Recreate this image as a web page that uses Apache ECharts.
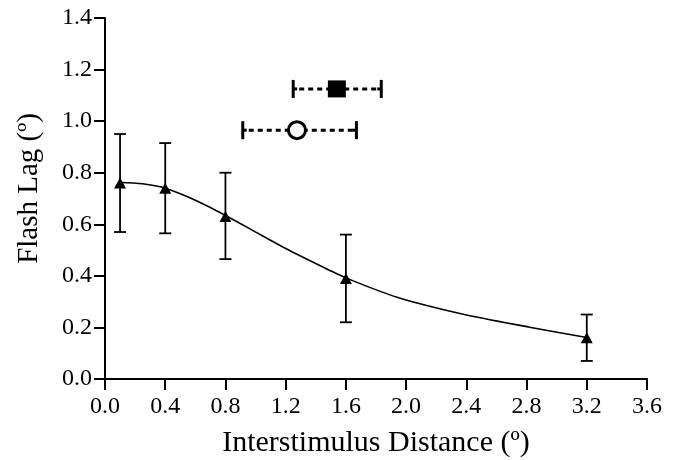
<!DOCTYPE html>
<html>
<head>
<meta charset="utf-8">
<script src="https://cdn.jsdelivr.net/npm/echarts@6/dist/echarts.min.js"></script>
<style>
html,body{margin:0;padding:0;background:#fff;}
#chart{width:678px;height:460px;}
</style>
</head>
<body>
<div id="chart"></div>
<script>
// Measured points (triangles) with vertical error bars
const xDist = [0.1, 0.4, 0.8, 1.6, 3.2];
const lagMean = [0.76, 0.74, 0.63, 0.39, 0.16];
const lagLow = [0.57, 0.565, 0.465, 0.22, 0.07];
const lagHigh = [0.95, 0.915, 0.80, 0.56, 0.25];

// Fitted curve
const curveX = [0.1, 0.25, 0.4, 0.56, 0.7, 0.8, 0.96, 1.2, 1.49, 1.6, 1.94, 2.38, 2.82, 3.2];
const curveY = [0.762, 0.757, 0.74, 0.704, 0.665, 0.634, 0.583, 0.506, 0.422, 0.392, 0.317, 0.251, 0.201, 0.161];

// Horizontal error-bar points
const squareX = 1.54, squareY = 1.125, squareLow = 1.25, squareHigh = 1.835;
const circleX = 1.275, circleY = 0.965, circleLow = 0.915, circleHigh = 1.67;

// Tick values
const xTicks = [0, 0.4, 0.8, 1.2, 1.6, 2.0, 2.4, 2.8, 3.2, 3.6];
const yTicks = [0, 0.2, 0.4, 0.6, 0.8, 1.0, 1.2, 1.4];

const FONT = '"Liberation Serif", "Times New Roman", serif';

const chart = echarts.init(document.getElementById('chart'), null, {renderer: 'canvas'});

const vErr = xDist.map((x, i) => [x, lagLow[i], lagHigh[i]]);
const hErr = [[squareLow, squareHigh, squareY], [circleLow, circleHigh, circleY]];

const axisCommon = {
  axisLine: {show: true, lineStyle: {color: '#000', width: 2}},
  axisTick: {show: true, inside: false, length: 11, lineStyle: {color: '#000', width: 2}},
  splitLine: {show: false},
  axisLabel: {color: '#000', fontFamily: FONT, fontSize: 24, formatter: v => v.toFixed(1)},
  nameTextStyle: {color: '#000', fontFamily: FONT, fontSize: 29}
};

chart.setOption({
  animation: false,
  backgroundColor: '#fff',
  grid: {left: 105, right: 31, top: 18, bottom: 81, containLabel: false, outerBoundsMode: 'none'},
  xAxis: Object.assign({}, axisCommon, {
    type: 'value', min: xTicks[0], max: xTicks[xTicks.length - 1], interval: 0.4,
    name: 'Interstimulus Distance (º)', nameLocation: 'middle', nameGap: 49,
    nameTextStyle: Object.assign({}, axisCommon.nameTextStyle, {fontSize: 30}),
    axisLabel: Object.assign({}, axisCommon.axisLabel, {margin: 16})
  }),
  yAxis: Object.assign({}, axisCommon, {
    type: 'value', min: yTicks[0], max: yTicks[yTicks.length - 1], interval: 0.2,
    name: 'Flash Lag (º)', nameLocation: 'middle', nameGap: 61,
    nameTextStyle: Object.assign({}, axisCommon.nameTextStyle, {padding: [0, 0, 0, 20]}),
    axisLabel: Object.assign({}, axisCommon.axisLabel, {margin: 13})
  }),
  series: [
    {
      type: 'line', smooth: 0.3, showSymbol: false, silent: true,
      data: curveX.map((x, i) => [x, curveY[i]]),
      lineStyle: {color: '#000', width: 1.6}, z: 2
    },
    {
      type: 'custom', silent: true, z: 3,
      data: vErr,
      renderItem: (params, api) => {
        const top = api.coord([api.value(0), api.value(2)]);
        const bot = api.coord([api.value(0), api.value(1)]);
        const hw = 6;
        const style = {stroke: '#000', lineWidth: 1.8};
        return {type: 'group', children: [
          {type: 'line', shape: {x1: top[0], y1: top[1], x2: bot[0], y2: bot[1]}, style},
          {type: 'line', shape: {x1: top[0] - hw, y1: top[1], x2: top[0] + hw, y2: top[1]}, style},
          {type: 'line', shape: {x1: bot[0] - hw, y1: bot[1], x2: bot[0] + hw, y2: bot[1]}, style}
        ]};
      }
    },
    {
      type: 'scatter', symbol: 'triangle', symbolSize: [12, 11], silent: true, z: 4,
      data: xDist.map((x, i) => [x, lagMean[i]]),
      itemStyle: {color: '#000', opacity: 1}
    },
    {
      type: 'custom', silent: true, z: 3,
      data: hErr,
      renderItem: (params, api) => {
        const l = api.coord([api.value(0), api.value(2)]);
        const r = api.coord([api.value(1), api.value(2)]);
        const hh = 9;
        const cap = {stroke: '#000', lineWidth: 3};
        return {type: 'group', children: [
          {type: 'line', shape: {x1: l[0] + 6, y1: l[1], x2: r[0] - 2, y2: r[1]}, style: {stroke: '#000', lineWidth: 3, lineDash: [5, 4]}},
          {type: 'line', shape: {x1: l[0], y1: l[1] - hh, x2: l[0], y2: l[1] + hh}, style: cap},
          {type: 'line', shape: {x1: r[0], y1: r[1] - hh, x2: r[0], y2: r[1] + hh}, style: cap},
          {type: 'line', shape: {x1: l[0], y1: l[1], x2: l[0] + 4, y2: l[1]}, style: cap},
          {type: 'line', shape: {x1: r[0] - 4, y1: r[1], x2: r[0], y2: r[1]}, style: cap}
        ]};
      }
    },
    {
      type: 'scatter', symbol: 'rect', symbolSize: [18, 17], silent: true, z: 5,
      data: [[squareX, squareY]],
      itemStyle: {color: '#000', opacity: 1}
    },
    {
      type: 'scatter', symbol: 'circle', symbolSize: 17, silent: true, z: 5,
      data: [[circleX, circleY]],
      itemStyle: {color: '#fff', borderColor: '#000', borderWidth: 3, opacity: 1}
    }
  ]
});
</script>
</body>
</html>
